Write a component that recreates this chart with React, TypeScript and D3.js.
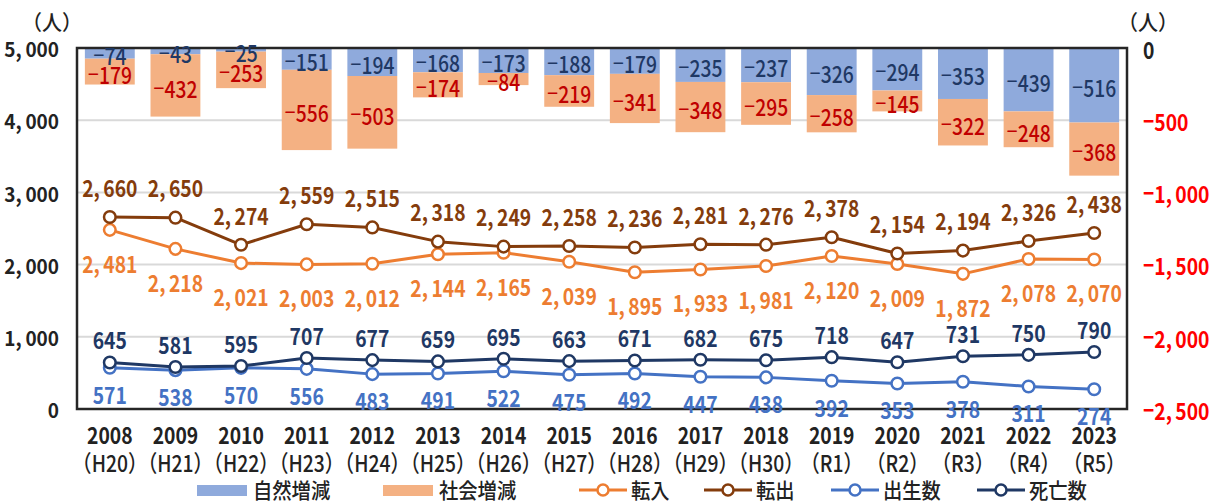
import React from 'react'
import * as d3 from 'd3'

const years = ['2008', '2009', '2010', '2011', '2012', '2013', '2014', '2015', '2016', '2017', '2018', '2019', '2020', '2021', '2022', '2023']
const eras = ['H20', 'H21', 'H22', 'H23', 'H24', 'H25', 'H26', 'H27', 'H28', 'H29', 'H30', 'R1', 'R2', 'R3', 'R4', 'R5']

const naturalChange = [-74, -43, -25, -151, -194, -168, -173, -188, -179, -235, -237, -326, -294, -353, -439, -516]
const socialChange = [-179, -432, -253, -556, -503, -174, -84, -219, -341, -348, -295, -258, -145, -322, -248, -368]
const moveIn = [2481, 2218, 2021, 2003, 2012, 2144, 2165, 2039, 1895, 1933, 1981, 2120, 2009, 1872, 2078, 2070]
const moveOut = [2660, 2650, 2274, 2559, 2515, 2318, 2249, 2258, 2236, 2281, 2276, 2378, 2154, 2194, 2326, 2438]
const births = [571, 538, 570, 556, 483, 491, 522, 475, 492, 447, 438, 392, 353, 378, 311, 274]
const deaths = [645, 581, 595, 707, 677, 659, 695, 663, 671, 682, 675, 718, 647, 731, 750, 790]

const leftTicks = [0, 1000, 2000, 3000, 4000, 5000]
const rightTicks = [-2500, -2000, -1500, -1000, -500, 0]

const FONT = "'Noto Sans CJK JP', 'Noto Sans', sans-serif"

const Txt = ({ x, y, children, anchor = 'middle', fill = '#222', size = 23, weight = 600, sx = 0.84 }: any) => (
  <text
    transform={`translate(${x},${y}) scale(${sx},1)`}
    textAnchor={anchor}
    dominantBaseline='central'
    fill={fill}
    fontSize={size}
    fontWeight={weight}
    fontFamily={FONT}
  >{children}</text>
)

// wide latin minus, and a little room after the thousands comma
const Num = ({ v }: { v: number }) => {
  const parts = d3.format(',')(Math.abs(v)).split(',')
  return (
    <>
      {v < 0 && <tspan fontFamily="'Liberation Sans', sans-serif">−</tspan>}
      {parts.length > 1
        ? <><tspan>{parts[0]},</tspan><tspan dx={4}>{parts[1]}</tspan></>
        : <tspan>{parts[0]}</tspan>}
    </>
  )
}

const App = () => {
  const width = 1215
  const height = 504
  const left = 77, right = 1127, top = 48, bottom = 409

  const x = d3.scaleBand<string>().domain(years).range([left, right]).paddingInner(0.24).paddingOuter(0.12)
  const cx = (i: number) => x(years[i])! + x.bandwidth() / 2
  const yL = d3.scaleLinear().domain([0, 5000]).range([bottom, top])
  const yR = d3.scaleLinear().domain([-2500, 0]).range([bottom, top])

  const series = [
    { name: '転入', values: moveIn, color: '#ED7D31', dy: 32 },
    { name: '転出', values: moveOut, color: '#843C0C', dy: -31 },
    { name: '出生数', values: births, color: '#4472C4', dy: 25 },
    { name: '死亡数', values: deaths, color: '#1F3864', dy: -24 },
  ]

  const lineGen = d3.line<number>().x((d, i) => cx(i)).y(d => yL(d))

  return (
    <svg width={width} height={height} style={{ display: 'block', position: 'absolute', left: 0, top: 0 }}>
      <rect width={width} height={height} fill='#fff' />

      {/* grid */}
      {leftTicks.filter(t => t > 0 && t < 5000).map(t => (
        <line key={t} x1={left} x2={right} y1={yL(t)} y2={yL(t)} stroke='#d9d9d9' strokeWidth={2} />
      ))}

      {/* stacked bars on right axis */}
      {years.map((yr, i) => {
        const n = naturalChange[i], s = socialChange[i]
        const bx = x(yr)!, bw = x.bandwidth()
        return (
          <g key={yr}>
            <rect x={bx} y={yR(0)} width={bw} height={yR(n) - yR(0)} fill='#8FAADC' />
            <rect x={bx} y={yR(n)} width={bw} height={yR(n + s) - yR(n)} fill='#F4B183' />
          </g>
        )
      })}

      {/* frame */}
      <rect x={left} y={top} width={right - left} height={bottom - top} fill='none' stroke='#262626' strokeWidth={2.5} />

      {/* bar labels */}
      {years.map((yr, i) => {
        const n = naturalChange[i], s = socialChange[i]
        return (
          <g key={'bl' + yr}>
            <Txt x={cx(i)} y={(yR(0) + yR(n)) / 2 + 1} fill='#1F3864' weight={500}><Num v={n} /></Txt>
            <Txt x={cx(i)} y={(yR(n) + yR(n + s)) / 2 + 1.5} fill='#C00000' weight={500}><Num v={s} /></Txt>
          </g>
        )
      })}

      {/* lines */}
      {series.map(s => (
        <g key={s.name}>
          <path d={lineGen(s.values)!} fill='none' stroke={s.color} strokeWidth={3} strokeLinejoin='round' />
          {s.values.map((v, i) => (
            <circle key={i} cx={cx(i)} cy={yL(v)} r={5.8} fill='#fff' stroke={s.color} strokeWidth={2.5} />
          ))}
        </g>
      ))}
      {series.map(s => (
        <g key={'lbl' + s.name}>
          {s.values.map((v, i) => (
            <Txt key={i} x={cx(i)} y={yL(v) + s.dy} fill={s.color}><Num v={v} /></Txt>
          ))}
        </g>
      ))}

      {/* left axis */}
      {leftTicks.map(t => (
        <Txt key={t} x={59} y={yL(t)} anchor='end' weight={700} size={20} sx={0.95} fill='#222'><Num v={t} /></Txt>
      ))}
      <Txt x={52} y={21} fill='#222' size={21} sx={0.95} weight={500}>（人）</Txt>

      {/* right axis */}
      {rightTicks.map(t => (
        <Txt key={t} x={1143} y={yR(t)} anchor='start' weight={700} fill={t === 0 ? '#222' : '#FF0000'}><Num v={t} /></Txt>
      ))}
      <Txt x={1148} y={21} fill='#222' size={21} sx={0.95} weight={500}>（人）</Txt>

      {/* x axis */}
      {years.map((yr, i) => (
        <g key={'x' + yr}>
          <Txt x={cx(i)} y={434}>{yr}</Txt>
          <Txt x={cx(i)} y={462} weight={500}>（{eras[i]}）</Txt>
        </g>
      ))}

      {/* legend */}
      <g>
        <rect x={197} y={485} width={50} height={11} fill='#8FAADC' />
        <Txt x={253} y={489} anchor='start' size={21} sx={0.92} weight={500}>自然増減</Txt>
        <rect x={383} y={485} width={50} height={11} fill='#F4B183' />
        <Txt x={439} y={489} anchor='start' size={21} sx={0.92} weight={500}>社会増減</Txt>
        {series.map((s, i) => {
          const lx = [579, 704, 831, 977][i]
          return (
            <g key={'lg' + s.name}>
              <line x1={lx} x2={lx + 48} y1={490} y2={490} stroke={s.color} strokeWidth={3} />
              <circle cx={lx + 24} cy={490} r={5.5} fill='#fff' stroke={s.color} strokeWidth={2.5} />
              <Txt x={lx + 52} y={489} anchor='start' size={21} sx={0.92} weight={500}>{s.name}</Txt>
            </g>
          )
        })}
      </g>
    </svg>
  )
}

export default App
